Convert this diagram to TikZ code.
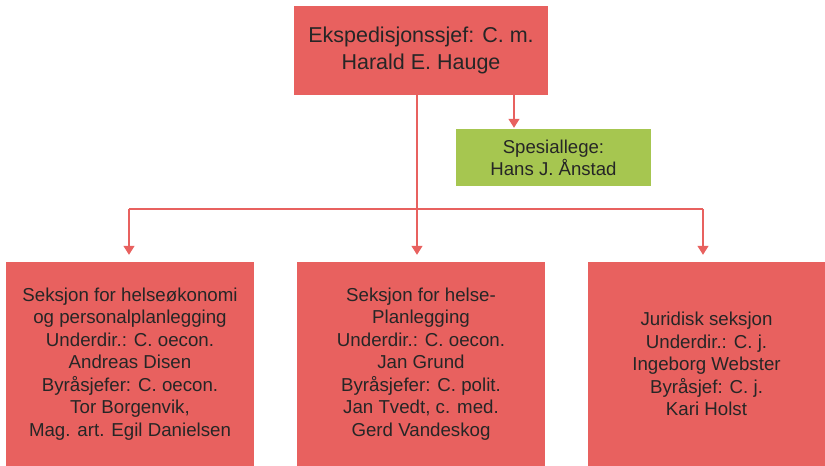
\documentclass[tikz,border=0pt]{standalone}
\usepackage{fontspec}
\setmainfont{Liberation Sans}
\usetikzlibrary{arrows.meta}
\definecolor{boxred}{RGB}{232,97,95}
\definecolor{boxgreen}{RGB}{166,198,80}
\definecolor{inkgray}{RGB}{38,38,38}
\begin{document}
\begin{tikzpicture}[x=1pt,y=-1pt,
  unit/.style={rectangle,inner sep=0pt,align=center,text=inkgray},
  redunit/.style={unit,fill=boxred},
  greenunit/.style={unit,fill=boxgreen},
  conn/.style={draw=boxred,line width=1.4pt},
  arr/.style={conn,-{Triangle[width=11pt,length=9pt]}}]
\useasboundingbox (0,0) rectangle (825,466);

% head of department
\node[redunit,minimum width=254pt,minimum height=89pt,
      font=\fontsize{21.5}{26.7}\selectfont] (top) at (421,50.5)
  {Ekspedisjonssjef: C. m.\\Harald E. Hauge};

% staff position
\node[greenunit,minimum width=195pt,minimum height=57pt,
      font=\fontsize{18.6}{21.7}\selectfont] (spec) at (553.5,157.5)
  {Spesiallege:\\Hans J. Ånstad};

% sections
\tikzset{section/.style={redunit,minimum height=204pt,
      font=\fontsize{18.7}{22.5}\selectfont}}
\node[section,minimum width=248pt] (s1) at (130,364)
  {Seksjon for helseøkonomi\\og personalplanlegging\\Underdir.: C. oecon.\\Andreas Disen\\Byråsjefer: C. oecon.\\Tor Borgenvik,\\Mag. art. Egil Danielsen};
\node[section,minimum width=248pt] (s2) at (421,364)
  {Seksjon for helse-\\Planlegging\\Underdir.: C. oecon.\\Jan Grund\\Byråsjefer: C. polit.\\Jan Tvedt, c. med.\\Gerd Vandeskog};
\node[section,minimum width=237pt] (s3) at (706.5,364)
  {Juridisk seksjon\\Underdir.: C. j.\\Ingeborg Webster\\Byråsjef: C. j.\\Kari Holst};

% connectors
\coordinate (j) at (417,209);
\coordinate (jl) at (129,209);
\coordinate (jr) at (703,209);
\coordinate (gs) at (514,0);
\draw[conn] (top.south -| j) -- (j);
\draw[conn] (jl) -- (jr);
\draw[arr,shorten >=7pt] (jl) -- (s1.north -| jl);
\draw[arr,shorten >=7pt] (j) -- (s2.north -| j);
\draw[arr,shorten >=7pt] (jr) -- (s3.north -| jr);
\draw[arr,shorten >=1pt] (top.south -| gs) -- (spec.north -| gs);
\end{tikzpicture}
\end{document}
